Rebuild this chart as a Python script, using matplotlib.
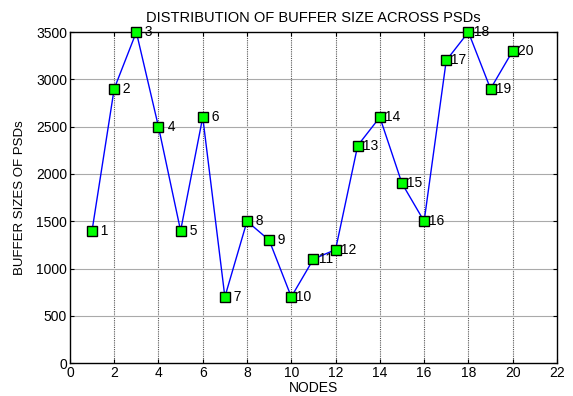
import matplotlib
matplotlib.use('Agg')
import matplotlib.pyplot as plt
import numpy as np

nodes = np.arange(1, 21)
buffer_sizes = [1400, 2900, 3500, 2500, 1400, 2600, 700, 1500, 1300, 700,
                1100, 1200, 2300, 2600, 1900, 1500, 3200, 3500, 2900, 3300]

plt.rcParams['font.family'] = ['Liberation Sans', 'DejaVu Sans']

fig = plt.figure(figsize=(5.73, 3.96), dpi=100)
ax = fig.add_axes([0.122, 0.083, 0.850, 0.836])

# grid: dotted verticals, light solid horizontals
for x in range(2, 22, 2):
    ax.axvline(x, color='#555555', linestyle=(0, (1, 1)), linewidth=0.8, zorder=0)
for y in range(500, 3500, 500):
    ax.axhline(y, color='#aaaaaa', linestyle='-', linewidth=0.8, zorder=0)

ax.plot(nodes, buffer_sizes, color='blue', linewidth=1.0, marker='s',
        markersize=7, markerfacecolor='#00ff00', markeredgecolor='black',
        markeredgewidth=1.0, zorder=3, clip_on=False)

# node numbers next to each point
for n, v in zip(nodes, buffer_sizes):
    lbl = f'  {n}' if n < 10 else f' {n}'
    ax.text(n + 0.05, v, lbl, fontsize=10, va='center', ha='left', zorder=4)

ax.set_xlim(0, 22)
ax.set_ylim(0, 3500)
ax.set_xticks(range(0, 23, 2))
ax.set_yticks(range(0, 3501, 500))
ax.tick_params(direction='in', top=True, right=True, labelsize=10, length=3, pad=2)
for s in ax.spines.values():
    s.set_linewidth(1.0)

ax.set_title('DISTRIBUTION OF BUFFER SIZE ACROSS PSDs', fontsize=10.5, pad=7)
ax.set_xlabel('NODES', fontsize=10, labelpad=1)
ax.set_ylabel('BUFFER SIZES OF PSDs', fontsize=9.5, labelpad=7)

fig.savefig('out.png', dpi=100)
